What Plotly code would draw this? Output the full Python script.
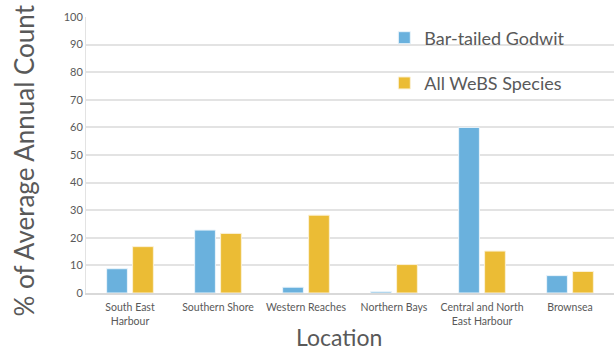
import plotly.graph_objects as go

locations = ["South East<br>Harbour", "Southern Shore", "Western Reaches",
             "Northern Bays", "Central and North<br>East Harbour", "Brownsea"]
godwit = [8.8, 22.8, 2.1, 0.5, 60.0, 6.3]
all_webs = [16.8, 21.6, 28.2, 10.3, 15.2, 7.8]
y_ticks = [0, 10, 20, 30, 40, 50, 60, 70, 80, 90, 100]

FONT = "Lato"
GREY = "#595959"

fig = go.Figure()
fig.add_trace(go.Bar(x=locations, y=godwit, name="Bar-tailed Godwit",
                     marker=dict(color="#6AB1DD", line=dict(color="#EAF4FB", width=1)),
                     legend="legend", showlegend=True))
fig.add_trace(go.Bar(x=locations, y=all_webs, name="All WeBS Species",
                     marker=dict(color="#EBBC35", line=dict(color="#FBF1D6", width=1)),
                     legend="legend2", showlegend=True))

leg_common = dict(font=dict(family=FONT, size=18, color=GREY), bgcolor="rgba(0,0,0,0)",
                  xanchor="left", yanchor="middle", itemwidth=30, traceorder="normal")

fig.update_layout(
    width=614, height=353,
    showlegend=True,
    margin=dict(l=86, r=0, t=17, b=60, autoexpand=False),
    paper_bgcolor="white", plot_bgcolor="white",
    barmode="group", bargap=0.41, bargroupgap=0.2,
    font=dict(family=FONT, color=GREY),
    legend=dict(x=0.565, y=0.924, **leg_common),
    legend2=dict(x=0.565, y=0.76, **leg_common),
    xaxis=dict(
        automargin=False,
        tickfont=dict(family=FONT, size=10.5, color=GREY),
        ticklabelstandoff=4,
        showline=True, linecolor="#D9D9D9", linewidth=1.5, ticks="",
    ),
    yaxis=dict(
        automargin=False,
        range=[0, 100], tickvals=y_ticks,
        tickfont=dict(family=FONT, size=11, color=GREY),
        showgrid=True, gridcolor="#E3E3E3", gridwidth=1.5,
        showline=True, linecolor="#E3E3E3", zeroline=False, ticks="",
    ),
    annotations=[
        dict(text="% of Average Annual Count", xref="paper", yref="paper",
             x=0, y=0.48, xshift=-62, xanchor="center", yanchor="middle",
             textangle=-90, showarrow=False,
             font=dict(family=FONT, size=26, color=GREY)),
        dict(text="Location", xref="paper", yref="paper",
             x=0.48, y=0, yshift=-59, xanchor="center", yanchor="bottom",
             borderpad=0, showarrow=False, font=dict(family=FONT, size=23, color=GREY)),
    ],
)

fig.write_html("out.html", config={"displayModeBar": False},
               post_script="document.body.style.margin='0';document.body.style.overflow='hidden';")
